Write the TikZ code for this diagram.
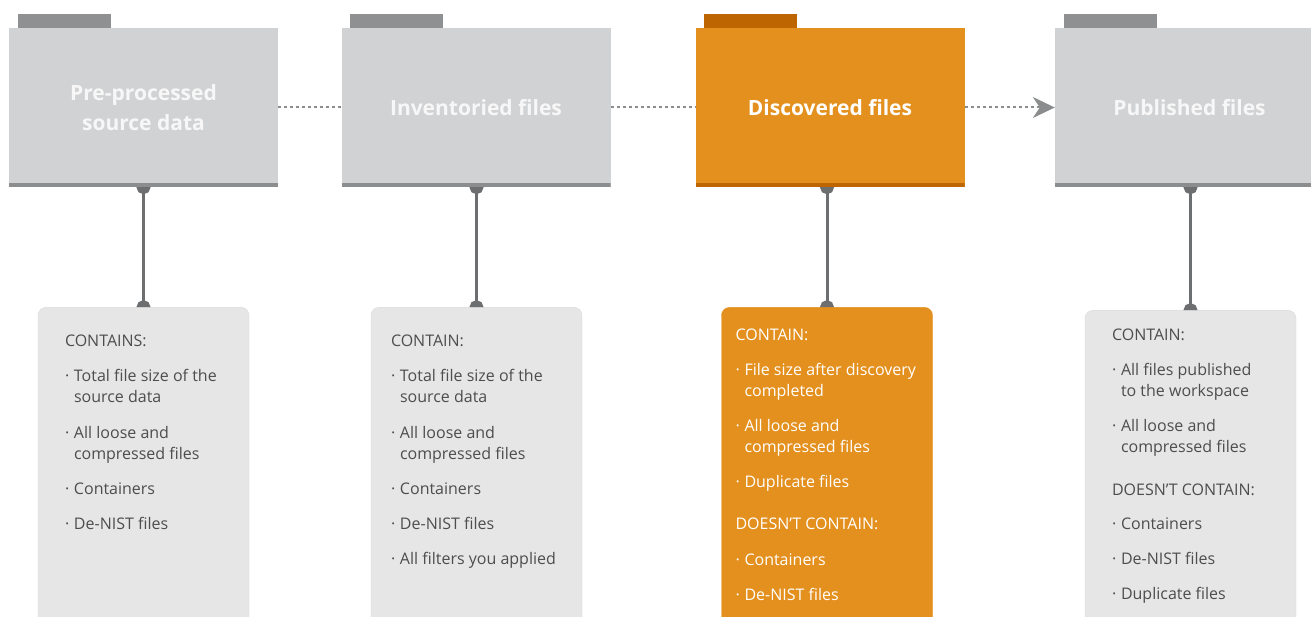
\documentclass[tikz,border=0pt]{standalone}
\usepackage{fontspec}
\setmainfont{Open Sans}
\usetikzlibrary{arrows.meta,positioning,backgrounds}

\definecolor{foldgray}{HTML}{D1D2D4}
\definecolor{foldedge}{HTML}{8C8D8F}
\definecolor{tabgray}{HTML}{8F9092}
\definecolor{discorange}{HTML}{E4901E}
\definecolor{discedge}{HTML}{BD6500}
\definecolor{boxgray}{HTML}{E6E6E6}
\definecolor{boxline}{HTML}{D9D9D9}
\definecolor{textgray}{HTML}{4D4D4F}
\definecolor{linkgray}{HTML}{6D6E70}
\definecolor{dotgray}{HTML}{8A8C8E}

\newcommand{\bul}{\makebox[9pt][l]{\textperiodcentered}}
\newcommand{\ind}{\hspace*{9pt}}

\begin{document}
\begin{tikzpicture}[
      x=1pt, y=1pt,
      folder/.style={rectangle, fill=foldgray, minimum width=269pt, minimum height=159pt, inner sep=0pt, text=white!94!gray, font=\fontsize{21}{30}\selectfont\bfseries, align=center,
        path picture={\fill[#1] (path picture bounding box.south west) rectangle ([yshift=4pt]path picture bounding box.south east);}},
      info/.style={rectangle, draw=boxline, fill=boxgray, rounded corners=8pt, minimum width=211pt, minimum height=330pt},
      infotext/.style={inner sep=0pt, align=left, text=textgray, font=\fontsize{16}{21}\selectfont},
      flow/.style={draw=dotgray, line width=2pt, dash pattern=on 3pt off 3pt},
      link/.style={draw=linkgray, line width=3pt, {Circle[length=14pt]}-{Circle[length=14pt]}, shorten <=-7pt, shorten >=-7pt}
  ]
  \useasboundingbox (0,0) rectangle (1311,-617);
  \clip (0,0) rectangle (1311,-617);

  % Folders
  \node (F1) [folder=foldedge] at (143.5,-107.5) {Pre-processed\\source data};
  \node (F2) [folder=foldedge] at (476,-107.5) {Inventoried files};
  \node (F3) [folder=discedge, fill=discorange, text=white] at (830,-107.5) {Discovered files};
  \node (F4) [folder=foldedge] at (1189.5,-107.5) {Published files};

  % Tabs
  \foreach \f/\c in {F1/tabgray, F2/tabgray, F3/discedge, F4/tabgray}
    \fill[\c] ([xshift=9pt]\f.north west) rectangle ([xshift=102pt, yshift=14pt]\f.north west);

  % Boxes
  \node (B1) [info, below=120pt of F1] {};
  \node (B2) [info, below=120pt of F2, xshift=0.5pt] {};
  \node (B3) [info, below=120pt of F3, xshift=-3pt, fill=discorange, draw=discorange] {};
  \node (B4) [info, below=123pt of F4, xshift=1pt] {};

  % Box texts
  \node (T1) [infotext, below right=27pt and 27pt of B1.north west] {CONTAINS:\\[14pt]
    \bul Total file size of the\\
    \ind source data\\[15pt]
    \bul All loose and\\
    \ind compressed files\\[14pt]
    \bul Containers\\[14pt]
    \bul De-NIST files};
  \node (T2) [infotext, below right=27pt and 20pt of B2.north west] {CONTAIN:\\[14pt]
    \bul Total file size of the\\
    \ind source data\\[15pt]
    \bul All loose and\\
    \ind compressed files\\[14pt]
    \bul Containers\\[14pt]
    \bul De-NIST files\\[14pt]
    \bul All filters you applied};
  \node (T3) [infotext, text=white, below right=21pt and 14pt of B3.north west] {CONTAIN:\\[14pt]
    \bul File size after discovery\\
    \ind completed\\[14pt]
    \bul All loose and\\
    \ind compressed files\\[14pt]
    \bul Duplicate files\\[21pt]
    DOESN'T CONTAIN:\\[15pt]
    \bul Containers\\[14pt]
    \bul De-NIST files};
  \node (T4) [infotext, below right=18pt and 27pt of B4.north west] {CONTAIN:\\[14pt]
    \bul All files published\\
    \ind to the workspace\\[14pt]
    \bul All loose and\\
    \ind compressed files\\[22pt]
    DOESN'T CONTAIN:\\[13pt]
    \bul Containers\\[14pt]
    \bul De-NIST files\\[14pt]
    \bul Duplicate files};

  % Flow arrows
  \draw [flow] (F1) -- (F2);
  \draw [flow] (F2) -- (F3);
  \draw [flow, -{Stealth[length=22pt, width=21pt, inset=7pt]}] (F3) -- (F4);

  % Links
  \begin{scope}[on background layer]
    \foreach \i in {1,...,4}
      \draw [link] (B\i.north |- F\i.south) -- (B\i.north);
  \end{scope}

\end{tikzpicture}
\end{document}
